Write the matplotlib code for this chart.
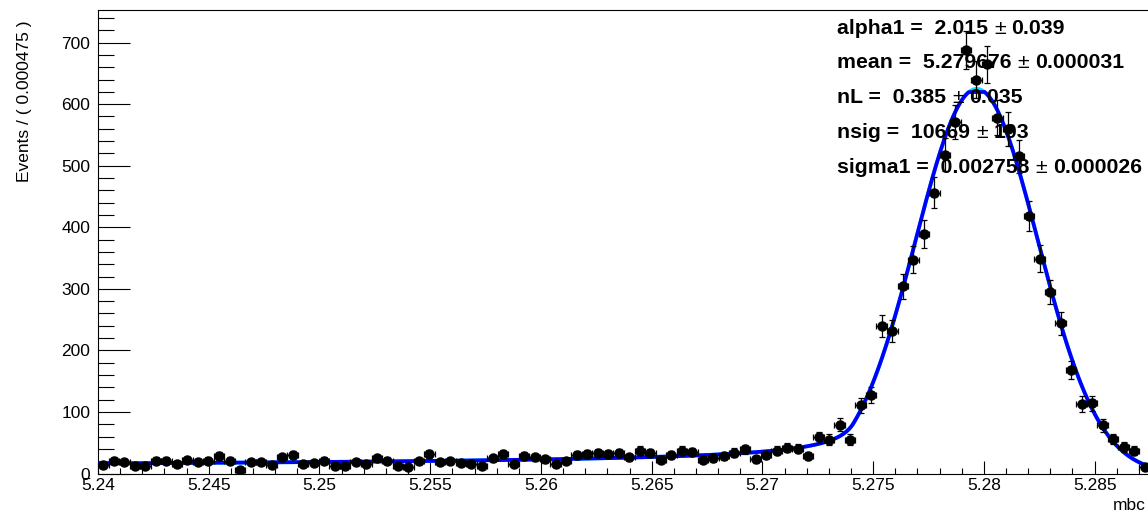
import numpy as np
import matplotlib
matplotlib.use("Agg")
import matplotlib.pyplot as plt
from matplotlib.ticker import FixedLocator, MultipleLocator

# ---------------- data ----------------
x_min = 5.24
bin_width = 0.000475
n_bins = 100
counts = [14, 21, 18, 12, 12, 21, 21, 16, 22, 19,
          21, 28, 21, 6, 19, 18, 13, 26, 30, 16,
          17, 21, 12, 12, 19, 15, 25, 21, 12, 10,
          20, 31, 18, 20, 17, 16, 12, 25, 31, 15,
          29, 26, 23, 15, 20, 30, 31, 33, 32, 33,
          26, 37, 33, 22, 30, 37, 35, 22, 25, 29,
          34, 39, 23, 30, 37, 42, 40, 29, 59, 55,
          79, 55, 111, 128, 240, 232, 304, 347, 389, 456,
          518, 571, 688, 640, 665, 578, 560, 515, 418, 349,
          295, 244, 168, 113, 114, 78, 56, 43, 37, 11]
err_scale = 1.17

# fit parameters (Crystal Ball)
alpha1 = 2.015
mean = 5.279676
nL = 0.385
nsig = 10669
sigma1 = 0.002758

param_names = ["alpha1", "mean", "nL", "nsig", "sigma1"]
param_values = ["2.015", "5.279676", "0.385", "10669", "0.002758"]
param_errors = ["0.039", "0.000031", "0.035", "103", "0.000026"]

x_ticks = [5.24, 5.245, 5.25, 5.255, 5.26, 5.265, 5.27, 5.275, 5.28, 5.285]
x_tick_labels = ["5.24", "5.245", "5.25", "5.255", "5.26", "5.265", "5.27",
                 "5.275", "5.28", "5.285"]
y_ticks = [0, 100, 200, 300, 400, 500, 600, 700]
y_tick_labels = ["0", "100", "200", "300", "400", "500", "600", "700"]
y_max = 753
y_title = "Events / ( 0.000475 )"
x_title = "mbc"

# ---------------- figure ----------------
plt.rcParams['font.family'] = ['Liberation Sans', 'DejaVu Sans']
W, H = 1148, 513
fig = plt.figure(figsize=(W / 100, H / 100), dpi=100)
ax = fig.add_axes([98 / W, 1 - 473.5 / H, 1052 / W, (473.5 - 10) / H])

x_max = x_min + n_bins * bin_width
centers = x_min + (np.arange(n_bins) + 0.5) * bin_width
cnt = np.array(counts, dtype=float)
yerr = err_scale * np.sqrt(cnt)


def cb_shape(x):
    t = (x - mean) / sigma1
    a = abs(alpha1)
    A = (nL / a) ** nL * np.exp(-0.5 * a * a)
    B = nL / a - a
    out = np.where(t >= -a, np.exp(-0.5 * t * t),
                   A * np.power(np.clip(B - t, 1e-9, None), -nL))
    return out


xf = np.linspace(x_min, x_max, 4000)
norm = np.trapezoid(cb_shape(xf), xf)
scale = nsig * bin_width / norm
# coarser sampling of the drawn total curve right at the peak (as in the plot)
xc = xf[np.abs(xf - mean) > 0.00035]

ax.plot(xf, scale * cb_shape(xf), color='#00e5ff', lw=2.7, zorder=2,
        solid_capstyle='round')
ax.plot(xc, scale * cb_shape(xc), color='#0000ff', lw=2.7, zorder=3,
        solid_joinstyle='round')

ax.errorbar(centers, cnt, yerr=yerr, xerr=bin_width / 2, fmt='o',
            color='black', ms=6.5, elinewidth=0.9, capsize=2.0,
            capthick=0.9, zorder=4)

ax.set_xlim(x_min, x_max)
ax.set_ylim(0, y_max)
ax.xaxis.set_major_locator(FixedLocator(x_ticks))
ax.set_xticklabels(x_tick_labels)
ax.xaxis.set_minor_locator(MultipleLocator(0.001))
ax.yaxis.set_major_locator(FixedLocator(y_ticks))
ax.set_yticklabels(y_tick_labels)
ax.yaxis.set_minor_locator(MultipleLocator(20))

ax.tick_params(axis='x', which='major', direction='in', length=9.1,
               width=0.8, labelsize=12.5, pad=3.5, top=False)
ax.tick_params(axis='x', which='minor', direction='in', length=4.4,
               width=0.8, top=False)
ax.tick_params(axis='y', which='major', direction='in', length=23,
               width=0.8, labelsize=12.5, pad=5.5, right=False)
ax.tick_params(axis='y', which='minor', direction='in', length=11.5,
               width=0.8, right=False)
for s in ax.spines.values():
    s.set_linewidth(0.8)

fig.text(24 / W, 1 - 20 / H, y_title, rotation=90, ha='center', va='top',
         fontsize=12.5)
fig.text(1146 / W, 1 - 506 / H, x_title, ha='right', va='center',
         fontsize=12.5)

# ---------------- fit parameter box ----------------
fig.canvas.draw()
renderer = fig.canvas.get_renderer()
fs = 15.3
gap = 6
for k in range(len(param_names)):
    yb = 1 - (33.5 + 34.8 * k) / H
    t1 = fig.text(837 / W, yb, f"{param_names[k]} =  {param_values[k]}",
                  fontweight='bold', fontsize=fs, va='baseline', ha='left')
    bb = t1.get_window_extent(renderer)
    t2 = fig.text((bb.x1 + gap) / W, yb, "\u00b1", fontsize=fs,
                  va='baseline', ha='left')
    bb2 = t2.get_window_extent(renderer)
    fig.text((bb2.x1 + gap) / W, yb, param_errors[k], fontweight='bold',
             fontsize=fs, va='baseline', ha='left')

fig.savefig("out.png", dpi=100)
